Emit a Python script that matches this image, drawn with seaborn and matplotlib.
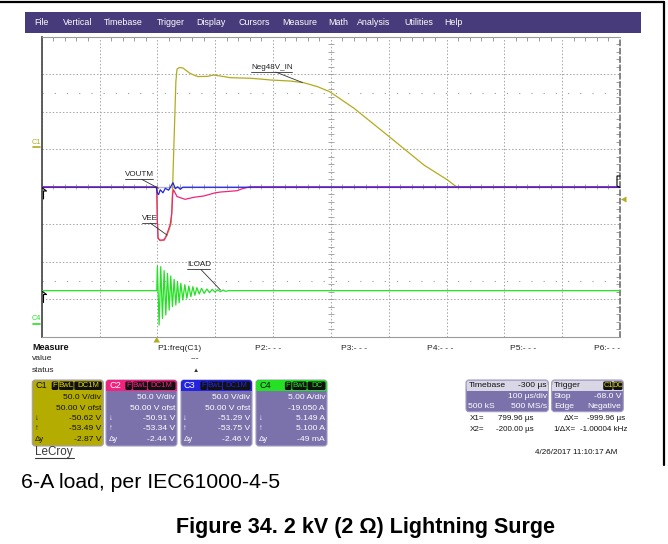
import numpy as np
import pandas as pd
import matplotlib
matplotlib.use("Agg")
import matplotlib.pyplot as plt
import seaborn as sns
from matplotlib.patches import FancyBboxPatch, Rectangle, Polygon
from matplotlib.ticker import MultipleLocator

# channel settings (from the scope's channel boxes)
ch_names = ["C1", "C2", "C3", "C4"]
ch_scale = [50.0, 50.0, 50.0, 5.0]        # V/div, A/div
ch_offset = [50.0, 50.0, 50.0, -19.05]    # V, A
ch_colors = ["#b3ab1e", "#f2237f", "#2424e0", "#25e025"]
box_lines = [
    ["50.0 V/div", "50.00 V ofst", "-50.62 V", "-53.49 V", "-2.87 V"],
    ["50.0 V/div", "50.00 V ofst", "-50.91 V", "-53.34 V", "-2.44 V"],
    ["50.0 V/div", "50.00 V ofst", "-51.29 V", "-53.75 V", "-2.46 V"],
    ["5.00 A/div", "-19.050 A", "5.149 A", "5.100 A", "-49 mA"],
]
box_badges = [["F", "BwL", "DC1M"], ["F", "BwL", "DC1M"], ["F", "BwL", "DC1M"], ["F", "BwL", "DC"]]

# traces, time in us, values in V (C1-C3) and A (C4)
c1_t = [-200, -1, 0, 1.5, 5, 10, 15, 20, 24, 26, 28, 30, 32, 34, 38, 44, 50, 56, 63, 70, 86, 97, 109,
        126, 161, 178, 196, 230, 253, 277, 298, 340, 401, 461, 502, 513, 518, 800]
c1_v = [-50, -50, -96, -119, -122, -121, -117, -108, -98, -60, -10, 40, 90, 107, 109, 108.5, 105, 101.5,
        99, 97, 97.2, 99, 97.7, 95.5, 94.7, 93.7, 92.4, 91, 88.8, 83.5, 76.8, 54.7, 16.8, -21, -41, -47.6, -50, -50]

c2_t = [-200, -1, 0, 1, 4, 12, 16, 22, 25, 26.5, 28, 34, 48, 63, 80, 100, 109, 138, 147, 160, 800]
c2_v = [-50, -50.5, -95, -118, -121, -121, -114, -101, -85, -60, -54, -63, -66.7, -64, -62.3, -58, -57,
        -55.2, -52.5, -50, -50]

c3_t = [-200, -2, 0, 2, 5, 9.7, 13.7, 19.4, 23, 27, 31, 35, 39.7, 44, 800]
c3_v = [-50.6, -50.6, -58, -60.5, -54, -58, -52, -54.5, -50, -44.5, -52.5, -50, -53.3, -50.6, -50.6]

c4_t = [-200, -1, 0, 3, 5.9, 8.8, 11.7, 14.6, 17.5, 20.4, 23.2, 26.1, 29, 31.9, 34.8, 37.7, 40.6, 44,
        47.5, 51, 54.4, 57.9, 61.4, 64.9, 68.3, 72.4, 76.4, 81, 85.6, 90.3, 94.9, 99.5, 104.1, 109,
        113.9, 118, 123, 800]
c4_v = [5.2, 5.2, 8.49, 0.62, 8.4, 1.51, 7.87, 1.96, 7.51, 2.62, 7.15, 3.07, 6.71, 3.29, 6.4, 3.6, 6.18,
        3.96, 6.0, 4.18, 5.82, 4.4, 5.73, 4.58, 5.6, 4.76, 5.51, 4.84, 5.42, 4.93, 5.38, 5.02, 5.33, 5.07,
        5.29, 5.11, 5.2, 5.2]

menu_items = ["File", "Vertical", "Timebase", "Trigger", "Display", "Cursors", "Measure", "Math",
              "Analysis", "Utilities", "Help"]
measure_params = ["P1:freq(C1)", "P2:- - -", "P3:- - -", "P4:- - -", "P5:- - -", "P6:- - -"]

sns.set_style("white")
plt.rcParams['font.family'] = ['Liberation Sans', 'DejaVu Sans']

W, H = 668, 544
fig = plt.figure(figsize=(W / 100, H / 100), dpi=100)

# scope grid area (pixels)
gx0, gx1, gy0, gy1 = 41.7, 620.0, 36.8, 336.8
ax = fig.add_axes([gx0 / W, 1 - gy1 / H, (gx1 - gx0) / W, (gy1 - gy0) / H])

traces = [(c1_t, c1_v), (c2_t, c2_v), (c3_t, c3_v), (c4_t, c4_v)]
for i, (t, v) in enumerate(traces):
    df = pd.DataFrame({"t": t, "div": (np.array(v) + ch_offset[i]) / ch_scale[i]})
    sns.lineplot(data=df, x="t", y="div", color=ch_colors[i], lw=0.9, ax=ax,
                 estimator=None, sort=False, zorder=3 + i)

ax.set_xlim(-200, 800)
ax.set_ylim(-4, 4)
ax.set_xticks(np.arange(-200, 801, 100))
ax.set_yticks(np.arange(-4, 5, 1))
ax.xaxis.set_minor_locator(MultipleLocator(20))
ax.yaxis.set_minor_locator(MultipleLocator(0.2))
ax.tick_params(which='both', direction='in', top=True, right=True, labelbottom=False,
               labelleft=False, color='#8c8c8c')
ax.tick_params(which='major', length=0)
ax.tick_params(which='minor', length=3, width=0.6)
ax.grid(True, which='major', ls=(0, (1.5, 2)), color='#a5a5a5', lw=0.7)
ax.set_xlabel('')
ax.set_ylabel('')
for s in ['top', 'bottom']:
    ax.spines[s].set_color('#9a9a9a')
    ax.spines[s].set_linewidth(0.8)
ax.spines['left'].set_color('#505050')
ax.spines['left'].set_linewidth(1.3)
ax.spines['right'].set_color('#707070')
ax.spines['right'].set_linestyle((0, (3, 2)))
ax.spines['right'].set_linewidth(1.2)

# center cross with minor ticks, and the sparse dotted rows
ax.axhline(0, color='#b8b8c8', lw=1.0, zorder=1)
ax.vlines(np.arange(-200, 800, 20), -0.07, 0.07, color='#9a9a9a', lw=0.6, zorder=1)
ax.hlines(np.arange(-4, 4, 0.2), 295, 305, color='#9a9a9a', lw=0.6, zorder=1)
for yy in (2.5, -2.5):
    ax.axhline(yy, color='#9a9a9a', lw=0.8, ls=(0, (1, 10)), zorder=1)

# trace labels with leader lines
lab_fs = 5.8
def tag(text, tx, ty, w, lx, ly):
    ax.text(tx, ty, text, fontsize=lab_fs, color='#222222', ha='left', va='bottom', zorder=10)
    ax.plot([tx, tx + w], [ty - 0.03, ty - 0.03], color='#333333', lw=0.6, zorder=10)
    ax.plot([tx + 0.6 * w, lx], [ty - 0.03, ly], color='#333333', lw=0.6, zorder=10)

tag("Neg48V_IN", 162, 3.09, 71, 251, 2.78)
tag("VOUTM", -56, 0.23, 48, 2, -0.04)
tag("VEE", -27, -0.94, 25, 17, -1.29)
tag("ILOAD", 51, -2.17, 40, 109, -2.75)

# overlay in pixel coordinates for the scope frame
ov = fig.add_axes([0, 0, 1, 1], zorder=5)
ov.set_xlim(0, W)
ov.set_ylim(H, 0)
ov.axis('off')

ov.plot([0, 663.5], [2, 2], color='black', lw=1.6)
ov.plot([663.5, 663.5], [2, 465], color='black', lw=1.6)

ov.add_patch(Rectangle((25, 12), 616, 20.5, color='#473b7b', lw=0))
menu_x = [34, 63, 103.5, 157, 196, 238.5, 282, 328, 357, 404, 444]
for name, mx in zip(menu_items, menu_x):
    ov.text(mx, 22.5, name, color='white', fontsize=6.4, va='center', ha='left')

# channel markers on the left, ground markers, trigger markers
ov.text(36.5, 142, "C1", color=ch_colors[0], fontsize=5.2, ha='center', va='center')
ov.plot([33, 40], [147, 147], color=ch_colors[0], lw=1.2)
ov.text(36.5, 319, "C4", color=ch_colors[3], fontsize=5.2, ha='center', va='center')
ov.plot([33, 40], [324, 324], color=ch_colors[3], lw=1.2)
for gy in (188, 291.5):
    ov.plot([42.5, 46.5, 43.5, 43.5], [gy, gy + 3, gy + 3, gy + 11], color='black', lw=0.8)
ov.plot([620, 617, 617, 620], [176, 176, 186, 187.5], color='black', lw=0.8)
ov.add_patch(Polygon([(621, 199.5), (626.5, 196.5), (626.5, 202.5)], color=ch_colors[0], lw=0))
ov.add_patch(Polygon([(153.5, 342.5), (160, 342.5), (156.7, 337)], color=ch_colors[0], lw=0))

# measure table
fs = 6.1
ov.text(32, 348, "Measure", fontsize=6.5, fontweight='bold', va='center', color='#111111')
ov.text(32, 359, "value", fontsize=fs, va='center', color='#222222')
ov.text(32, 370, "status", fontsize=fs, va='center', color='#222222')
for name, px in zip(measure_params, [157, 255, 341, 427, 510, 594]):
    ov.text(px, 348, name, fontsize=fs, va='center', color='#222222')
ov.text(195, 359, "---", fontsize=fs, va='center', ha='center', color='#222222')
ov.text(196, 370, "\u25B2", fontsize=4.5, va='center', ha='center', color='#333333')

# channel boxes
purple = '#7c72ab'
edge = '#a29cc4'
box_x = [32.3, 106, 181, 256]
bw, bt, bh = 71, 380, 66
for i in range(4):
    x0 = box_x[i]
    fill = '#b5ac00' if i == 0 else purple
    ov.add_patch(FancyBboxPatch((x0, bt), bw, bh, boxstyle="round,pad=0,rounding_size=3",
                                fc=fill, ec=edge, lw=0.8))
    if i > 0:
        ov.add_patch(FancyBboxPatch((x0, bt), bw, 11, boxstyle="round,pad=0,rounding_size=3",
                                    fc=ch_colors[i], ec='none'))
        ov.add_patch(Rectangle((x0, bt + 5), bw, 6, fc=ch_colors[i], ec='none'))
    name_col = 'white' if i in (1, 2) else '#111111'
    ov.text(x0 + 3, bt + 5.8, ch_names[i], fontsize=6.6, color=name_col, va='center', ha='left')
    # badges, right aligned
    widths = {"F": 6.5, "BwL": 14.5, "DC1M": 27.5, "DC": 18}
    bx = x0 + bw - 1.5
    for b in reversed(box_badges[i]):
        wdt = widths[b]
        bx -= wdt
        ov.add_patch(FancyBboxPatch((bx, bt + 1.5), wdt, 8.5, boxstyle="round,pad=0,rounding_size=1.5",
                                    fc='#111111', ec='none'))
        bc = '#e0d800' if i == 0 else ch_colors[i]
        ov.text(bx + wdt / 2, bt + 5.9, b, fontsize=5.6, color=bc, ha='center', va='center')
        bx -= 0.8
    tc = '#111111' if i == 0 else 'white'
    for k, (txt, yy) in enumerate(zip(box_lines[i], [397.7, 408.3, 418.3, 429, 439.3])):
        ov.text(x0 + bw - 2, yy, txt, fontsize=fs, color=tc, ha='right', va='center')
    for sym, yy in zip(["\u2193", "\u2191", "\u0394y"], [418.3, 429, 439.3]):
        ov.text(x0 + 2.5, yy, sym, fontsize=5.6, color=tc, ha='left', va='center')

ov.text(35, 452.5, "LeCroy", fontsize=8.4, color='#3a3a3a', va='center', ha='left')
ov.plot([35, 74], [458, 458], color='#3a3a3a', lw=0.8)

# timebase and trigger boxes
for x0, w in [(466, 82.3), (551.7, 71.6)]:
    ov.add_patch(FancyBboxPatch((x0, bt), w, 31.7, boxstyle="round,pad=0,rounding_size=3",
                                fc=purple, ec=edge, lw=0.8))
    ov.add_patch(FancyBboxPatch((x0 + 0.6, bt + 0.6), w - 1.2, 10, boxstyle="round,pad=0,rounding_size=2.5",
                                fc='#d9d7e5', ec='none'))
    ov.add_patch(Rectangle((x0 + 0.6, bt + 5), w - 1.2, 5.6, fc='#d9d7e5', ec='none'))
ov.text(468.5, 385.6, "Timebase", fontsize=fs, color='#111111', va='center')
ov.text(547, 385.6, "-300 \u00b5s", fontsize=fs, color='#111111', va='center', ha='right')
ov.text(547, 396.3, "100 \u00b5s/div", fontsize=fs, color='white', va='center', ha='right')
ov.text(468, 406.5, "500 kS", fontsize=fs, color='white', va='center')
ov.text(547, 406.5, "500 MS/s", fontsize=fs, color='white', va='center', ha='right')
ov.text(554, 385.6, "Trigger", fontsize=fs, color='#111111', va='center')
for b, bx, wdt in [("C1", 603.2, 9.5), ("DC", 613.2, 9.3)]:
    ov.add_patch(FancyBboxPatch((bx, bt + 1.5), wdt, 8.5, boxstyle="round,pad=0,rounding_size=1.5",
                                fc='#111111', ec='none'))
    ov.text(bx + wdt / 2, bt + 5.9, b, fontsize=5.4, color='#e0d800', ha='center', va='center')
ov.text(554, 396.3, "Stop", fontsize=fs, color='white', va='center')
ov.text(621.5, 396.3, "-68.0 V", fontsize=fs, color='white', va='center', ha='right')
ov.text(554, 406.5, "Edge", fontsize=fs, color='white', va='center')
ov.text(621.5, 406.5, "Negative", fontsize=fs, color='white', va='center', ha='right')

# cursor readouts
cur = dict(fontsize=5.8, color='#111111', va='center')
ov.text(470, 418.3, "X1=", **cur)
ov.text(534, 418.3, "799.96 \u00b5s", ha='right', **cur)
ov.text(564, 418.3, "\u0394X=", **cur)
ov.text(625, 418.3, "-999.96 \u00b5s", ha='right', **cur)
ov.text(470, 429.3, "X2=", **cur)
ov.text(534, 429.3, "-200.00 \u00b5s", ha='right', **cur)
ov.text(553, 429.3, "1/\u0394X=", **cur)
ov.text(627, 429.3, "-1.00004 kHz", ha='right', **cur)
ov.text(617, 453, "4/26/2017 11:10:17 AM", ha='right', **cur)

# document text under the screenshot
ov.text(21, 482, "6-A load, per IEC61000-4-5", fontsize=15.3, color='black', va='center', ha='left')
ov.text(365, 528, "Figure 34. 2 kV (2 \u03a9) Lightning Surge", fontsize=15.5, fontweight='bold',
        color='black', va='center', ha='center')

fig.savefig("out.png", dpi=100, facecolor='white')
